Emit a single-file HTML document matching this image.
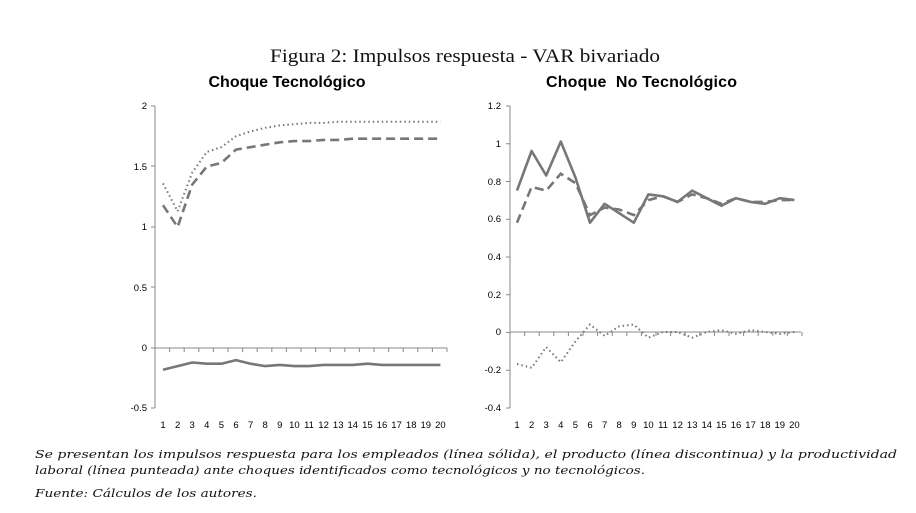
<!DOCTYPE html>
<html><head><meta charset="utf-8"><style>
body{margin:0;background:#fff;width:916px;height:513px;overflow:hidden}
svg{position:absolute;left:0;top:0}
</style></head><body>
<svg id="s" width="916" height="513" xmlns="http://www.w3.org/2000/svg">
<text x="270" y="62" textLength="390" lengthAdjust="spacingAndGlyphs" font-family="Liberation Serif, serif" font-size="19" fill="#111">Figura 2: Impulsos respuesta - VAR bivariado</text>
<text x="287" y="87" font-family="Liberation Sans, sans-serif" font-weight="bold" font-size="16" text-anchor="middle" fill="#000">Choque Tecnológico</text>
<text x="546" y="87" textLength="191" font-family="Liberation Sans, sans-serif" font-weight="bold" font-size="16" fill="#000" xml:space="preserve">Choque  No Tecnológico</text>
<g font-family="Liberation Sans, sans-serif" font-size="9.5" fill="#000" text-anchor="end">
<text x="147" y="109">2</text><text x="147" y="170">1.5</text><text x="147" y="230">1</text><text x="147" y="291">0.5</text><text x="147" y="351">0</text><text x="147" y="411">-0.5</text>
<text x="501" y="109">1.2</text><text x="501" y="147">1</text><text x="501" y="185">0.8</text><text x="501" y="222">0.6</text><text x="501" y="260">0.4</text><text x="501" y="298">0.2</text><text x="501" y="335">0</text><text x="501" y="373">-0.2</text><text x="501" y="411">-0.4</text>
</g>
<g id="g"></g>
<g font-family="DejaVu Serif, serif" font-style="italic" font-size="11.5" fill="#111">
<text x="35" y="458" textLength="862" lengthAdjust="spacingAndGlyphs">Se presentan los impulsos respuesta para los empleados (línea sólida), el producto (línea discontinua) y la productividad</text>
<text x="35" y="474" textLength="610" lengthAdjust="spacingAndGlyphs">laboral (línea punteada) ante choques identificados como tecnológicos y no tecnológicos.</text>
<text x="35" y="497" textLength="222" lengthAdjust="spacingAndGlyphs">Fuente: Cálculos de los autores.</text>
</g>
</svg>
<script>
var g=document.getElementById('g'),h='';
function L(x1,y1,x2,y2){h+='<line x1="'+x1+'" y1="'+y1+'" x2="'+x2+'" y2="'+y2+'" stroke="#888" stroke-width="1"/>';}
function P(xs,vals,f,st){var p=vals.map(function(v,i){return (xs+i*14.6).toFixed(1)+','+f(v).toFixed(1)}).join(' ');h+='<polyline points="'+p+'" fill="none" stroke="#777" '+st+'/>';}
var sol='stroke-width="2.6" stroke-linejoin="round"',das='stroke-width="2.6" stroke-dasharray="9,5"',dot='stroke-width="2" stroke-dasharray="1.5,3"';
L(155,106,155,408);[106,166,227,287,348,408].forEach(function(y){L(151,y,155,y)});L(155,348,447,348);
for(var i=0;i<=20;i++)L(155+i*14.6,348,155+i*14.6,352);
var fl=function(v){return 348-v*121};
P(163,[1.36,1.13,1.45,1.62,1.66,1.75,1.79,1.82,1.84,1.85,1.86,1.86,1.87,1.87,1.87,1.87,1.87,1.87,1.87,1.87],fl,dot);
P(163,[1.18,1.0,1.35,1.5,1.53,1.64,1.66,1.68,1.7,1.71,1.71,1.72,1.72,1.73,1.73,1.73,1.73,1.73,1.73,1.73],fl,das);
P(163,[-0.18,-0.15,-0.12,-0.13,-0.13,-0.1,-0.13,-0.15,-0.14,-0.15,-0.15,-0.14,-0.14,-0.14,-0.13,-0.14,-0.14,-0.14,-0.14,-0.14],fl,sol);
L(510,106,510,408);for(var k=0;k<9;k++)L(506,106+k*37.75,510,106+k*37.75);L(510,332,801,332);
for(var i=0;i<=20;i++)L(510+i*14.6,332,510+i*14.6,336);
var fr=function(v){return 332-v*188.5};
P(517,[-0.17,-0.19,-0.08,-0.16,-0.05,0.04,-0.02,0.03,0.04,-0.03,0,0,-0.03,0,0.01,-0.01,0.01,0,-0.01,0],fr,dot);
P(517,[0.58,0.77,0.75,0.84,0.79,0.62,0.66,0.65,0.62,0.70,0.72,0.69,0.73,0.71,0.68,0.71,0.69,0.69,0.70,0.70],fr,das);
P(517,[0.75,0.96,0.83,1.01,0.82,0.58,0.68,0.63,0.58,0.73,0.72,0.69,0.75,0.71,0.67,0.71,0.69,0.68,0.71,0.70],fr,sol);
g.innerHTML=h;
</script>
<svg width="916" height="513" xmlns="http://www.w3.org/2000/svg" style="pointer-events:none">
<g font-family="Liberation Sans, sans-serif" font-size="9.5" fill="#000" text-anchor="middle">
<text x="163" y="428">1</text><text x="177.6" y="428">2</text><text x="192.2" y="428">3</text><text x="206.8" y="428">4</text><text x="221.4" y="428">5</text><text x="236" y="428">6</text><text x="250.6" y="428">7</text><text x="265.2" y="428">8</text><text x="279.8" y="428">9</text><text x="294.4" y="428">10</text><text x="309" y="428">11</text><text x="323.6" y="428">12</text><text x="338.2" y="428">13</text><text x="352.8" y="428">14</text><text x="367.4" y="428">15</text><text x="382" y="428">16</text><text x="396.6" y="428">17</text><text x="411.2" y="428">18</text><text x="425.8" y="428">19</text><text x="440.4" y="428">20</text>
<text x="517" y="428">1</text><text x="531.6" y="428">2</text><text x="546.2" y="428">3</text><text x="560.8" y="428">4</text><text x="575.4" y="428">5</text><text x="590" y="428">6</text><text x="604.6" y="428">7</text><text x="619.2" y="428">8</text><text x="633.8" y="428">9</text><text x="648.4" y="428">10</text><text x="663" y="428">11</text><text x="677.6" y="428">12</text><text x="692.2" y="428">13</text><text x="706.8" y="428">14</text><text x="721.4" y="428">15</text><text x="736" y="428">16</text><text x="750.6" y="428">17</text><text x="765.2" y="428">18</text><text x="779.8" y="428">19</text><text x="794.4" y="428">20</text>
</g></svg>
</body></html>
